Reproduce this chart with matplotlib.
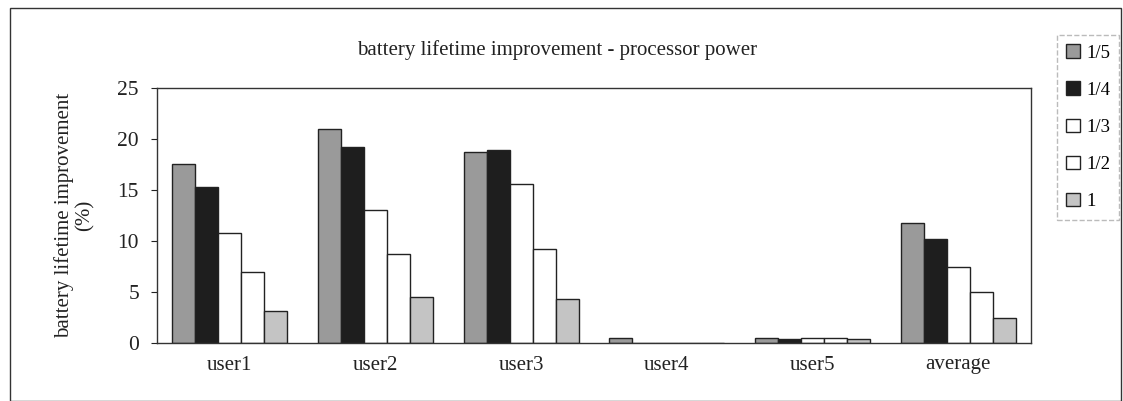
import matplotlib
matplotlib.use("Agg")
import matplotlib.pyplot as plt
import numpy as np
from matplotlib.patches import Rectangle

plt.rcParams['font.family'] = ['Liberation Serif', 'DejaVu Serif']

users = ['user1', 'user2', 'user3', 'user4', 'user5', 'average']
series = ['1/5', '1/4', '1/3', '1/2', '1']
v_1_5 = [17.5, 21.0, 18.7, 0.5, 0.5, 11.8]
v_1_4 = [15.3, 19.2, 18.9, 0.0, 0.4, 10.2]
v_1_3 = [10.8, 13.0, 15.6, 0.0, 0.5, 7.5]
v_1_2 = [7.0, 8.7, 9.2, 0.0, 0.5, 5.0]
v_1 = [3.1, 4.5, 4.3, 0.0, 0.4, 2.5]

vals = [v_1_5, v_1_4, v_1_3, v_1_2, v_1]
fills = ['#9a9a9a', '#1e1e1e', 'white', 'white', '#c4c4c4']

fig = plt.figure(figsize=(11.23, 4.01), dpi=100)
ax = fig.add_axes([157/1123, 1 - 343/401, (1031-157)/1123, (343-88)/401])

x = np.arange(len(users))
w = 0.158
for i, (s, v) in enumerate(zip(series, vals)):
    ax.bar(x + (i - 2) * w, v, w, color=fills[i], edgecolor='#222222',
           linewidth=1.0, label=s)

ax.set_xlim(-0.5, len(users) - 0.5)
ax.set_ylim(0, 25)
ax.set_yticks([0, 5, 10, 15, 20, 25])
ax.set_xticks(x)
ax.set_xticklabels(users)
ax.tick_params(axis='x', length=0, pad=9, labelsize=15, colors='#222222')
ax.tick_params(axis='y', length=4, direction='out', pad=9, labelsize=15.5, colors='#222222')
for sp in ax.spines.values():
    sp.set_color('#333333')
    sp.set_linewidth(1.0)

ax.set_ylabel('battery lifetime improvement\n(%)', fontsize=15, color='#222222',
              labelpad=16, linespacing=1.1)
fig.text(557/1123, 1 - 50/401, 'battery lifetime improvement - processor power',
         ha='center', va='center', fontsize=15, color='#222222')

leg = fig.legend(loc='upper left', bbox_to_anchor=(1057/1123, 1 - 35/401),
                 borderaxespad=0, frameon=True, fontsize=13.5, handlelength=0.75,
                 handleheight=0.75, labelspacing=1.05, borderpad=0.5,
                 handletextpad=0.3, fancybox=False)
leg.get_frame().set_edgecolor('#aaaaaa')
leg.get_frame().set_linestyle('--')

fig.patches.append(Rectangle((10/1123, 0), 1 - 12/1123, 1 - 8/401, transform=fig.transFigure,
                             fill=False, edgecolor='#333333', linewidth=1.0))

fig.savefig('out.png', dpi=100)
